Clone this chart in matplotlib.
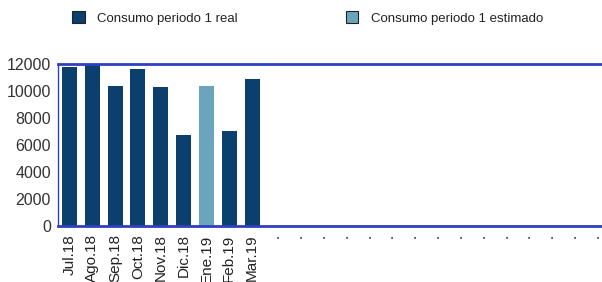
import matplotlib
matplotlib.use("Agg")
import matplotlib.pyplot as plt
import numpy as np

plt.rcParams['font.family'] = ['Liberation Sans', 'DejaVu Sans']

meses = ["Jul.18", "Ago.18", "Sep.18", "Oct.18", "Nov.18", "Dic.18",
         "Ene.19", "Feb.19", "Mar.19"]
n_slots = 24
real = [11750, 12050, 10350, 11630, 10270, 6750, 0, 7050, 10880]
estimado = [0, 0, 0, 0, 0, 0, 10390, 0, 0]
yticks = [0, 2000, 4000, 6000, 8000, 10000, 12000]

c_real = "#0b3f6e"
c_est = "#6aa5bd"
c_borde = "#2f3fbf"

fig = plt.figure(figsize=(6.02, 2.82), dpi=100)
ax = fig.add_axes([58/602, 1-226/282, 548/602, 162/282])

x = np.arange(len(meses))
ax.bar(x, real, width=0.66, color=c_real, label="Consumo periodo 1 real")
ax.bar(x, estimado, width=0.66, color=c_est, label="Consumo periodo 1 estimado")

ax.set_xlim(-0.5, n_slots - 0.5)
ax.set_ylim(0, 12000)
ax.set_yticks(yticks)
ax.set_yticklabels([str(v) for v in yticks], fontsize=11.5, color="#333333")
etiquetas = meses + ["."] * (n_slots - len(meses))
ax.set_xticks(np.arange(n_slots))
ax.set_xticklabels(etiquetas, rotation=90, fontsize=11, color="#222222")
ax.tick_params(axis='both', length=0)
ax.tick_params(axis='x', pad=6)
ax.tick_params(axis='y', pad=5)

for s in ['top', 'bottom']:
    ax.spines[s].set_color(c_borde)
    ax.spines[s].set_linewidth(2)
ax.spines['left'].set_color(c_borde)
ax.spines['left'].set_linewidth(1)
ax.spines['right'].set_visible(False)

leg = fig.legend(loc='center left', bbox_to_anchor=(72/602, 1-18/282), ncol=2,
                 frameon=False, fontsize=9.5, handlelength=0.95, handleheight=0.95,
                 handletextpad=0.95, columnspacing=8.2, borderpad=0, borderaxespad=0,
                 labelcolor="#222222")
for h in leg.legend_handles:
    h.set_edgecolor("#222222")
    h.set_linewidth(0.8)

fig.savefig("out.png", dpi=100)
